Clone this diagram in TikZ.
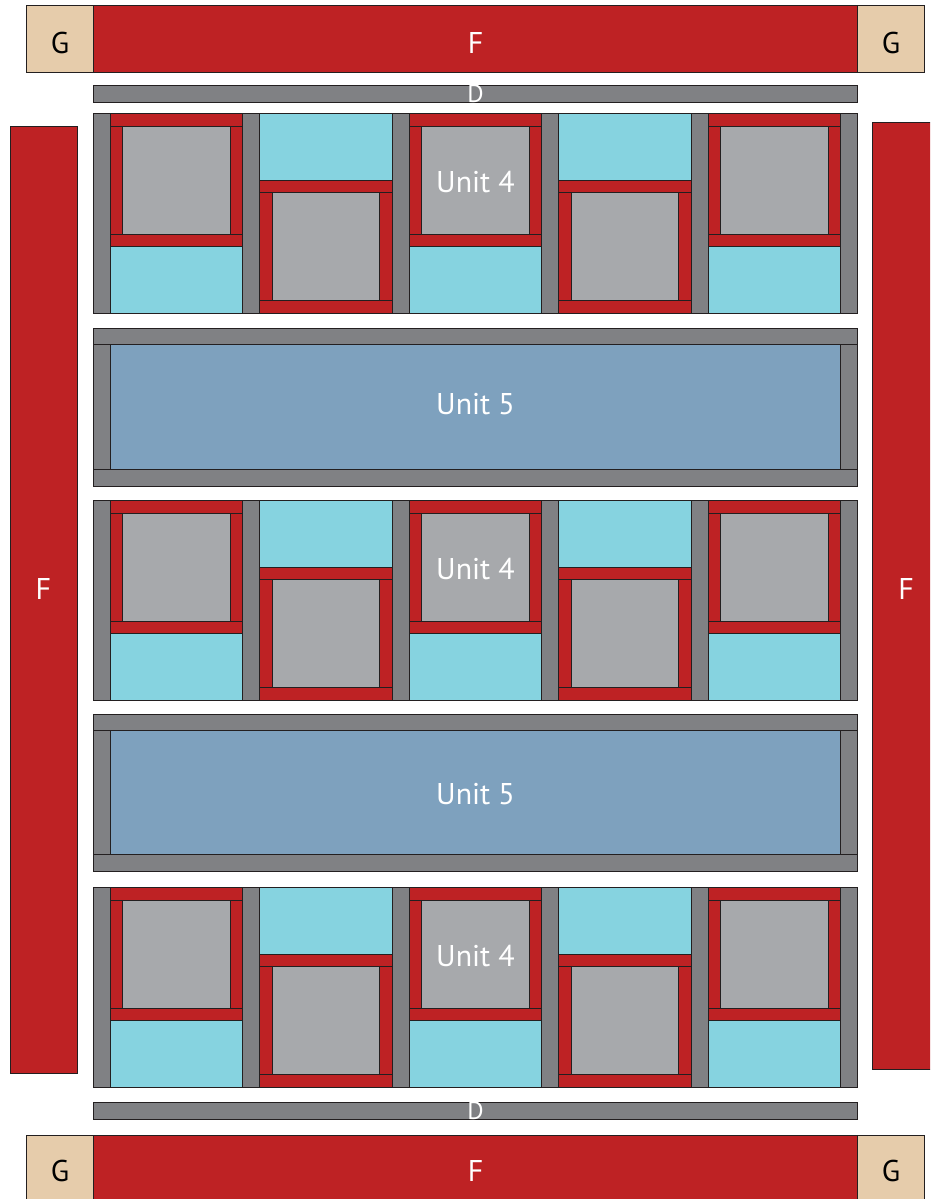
\documentclass[tikz,border=0pt]{standalone}
\usepackage{fontspec}
\setmainfont{PT Sans}
\definecolor{qred}{HTML}{BE2224}
\definecolor{qtan}{HTML}{E6CCAB}
\definecolor{qsash}{HTML}{808184}
\definecolor{qsq}{HTML}{A7A9AC}
\definecolor{qcyan}{HTML}{86D3E0}
\definecolor{qblue}{HTML}{7EA1BE}
\definecolor{qline}{HTML}{231F20}
\begin{document}
\begin{tikzpicture}[x=1pt,y=-1pt,
  piece/.style={draw=qline,line width=1pt},
  redp/.style={piece,fill=qred},
  tanp/.style={piece,fill=qtan},
  sashp/.style={piece,fill=qsash},
  sqp/.style={piece,fill=qsq},
  cyanp/.style={piece,fill=qcyan},
  bluep/.style={piece,fill=qblue},
  lab/.style={font=\fontsize{30}{30}\selectfont,inner sep=0pt},
  wlab/.style={lab,text=white},
  blab/.style={lab,text=black},
  dlab/.style={font=\fontsize{25}{25}\selectfont,inner sep=0pt,text=white,anchor=base}]
\useasboundingbox (0,0) rectangle (930,1199);
\clip (0,0) rectangle (930,1199);
% top border
\draw[tanp] (26.7,6) rectangle (93.3,72.7);
\draw[redp] (93.3,6) rectangle (857.5,72.7);
\draw[tanp] (857.5,6) rectangle (924.3,72.7);
\node[blab] (gtl) at (60,43) {G};
\node[wlab] (ftop) at (475.5,43) {F};
\node[blab] (gtr) at (891,43) {G};
% bottom border
\draw[tanp] (26.7,1135) rectangle (93.3,1201.7);
\draw[redp] (93.3,1135) rectangle (857.5,1201.7);
\draw[tanp] (857.5,1135) rectangle (924.3,1201.7);
\node[blab] (gbl) at (60,1171) {G};
\node[wlab] (fbot) at (475.5,1171) {F};
\node[blab] (gbr) at (891,1171) {G};
% side borders
\draw[redp] (10.7,126.7) rectangle (77.3,1073.3);
\node[wlab] (fleft) at (43.5,589) {F};
\draw[redp] (872.7,122.7) rectangle (939.3,1069.3);
\node[wlab] (fright) at (906,589) {F};
% D strips
\draw[sashp] (93.3,85.3) rectangle (857.5,102);
\node[dlab] (dtop) at (475.5,102.6) {D};
\draw[sashp] (93.3,1102.3) rectangle (857.5,1119.3);
\node[dlab] (dbot) at (475.5,1119.2) {D};
% Unit 4 rows
\foreach \r in {0,1,2} {
  \pgfmathsetmacro\T{113.3+387*\r}
  \foreach \i in {0,...,5} {
    \draw[sashp] (93.3+149.5*\i,\T) rectangle ++(16.7,200);
  }
  \foreach \j in {0,2,4} {
    \pgfmathsetmacro\X{110+149.5*\j}
    \draw[redp] (\X,\T) rectangle ++(132.8,12.7);
    \draw[redp] (\X,\T+120.7) rectangle ++(132.8,12.6);
    \draw[redp] (\X,\T+12.7) rectangle ++(12.5,108);
    \draw[redp] (\X+120.3,\T+12.7) rectangle ++(12.5,108);
    \draw[sqp] (\X+12.5,\T+12.7) rectangle ++(107.8,108);
    \draw[cyanp] (\X,\T+133.3) rectangle ++(132.8,66.7);
  }
  \foreach \j in {1,3} {
    \pgfmathsetmacro\X{110+149.5*\j}
    \draw[cyanp] (\X,\T) rectangle ++(132.8,66.7);
    \draw[redp] (\X,\T+66.7) rectangle ++(132.8,12.7);
    \draw[redp] (\X,\T+187.3) rectangle ++(132.8,12.7);
    \draw[redp] (\X,\T+79.4) rectangle ++(12.5,107.9);
    \draw[redp] (\X+120.3,\T+79.4) rectangle ++(12.5,107.9);
    \draw[sqp] (\X+12.5,\T+79.4) rectangle ++(107.8,107.9);
  }
  \node[wlab] (unitfour-\r) at (475.5,\T+69) {Unit 4};
}
% Unit 5 rows
\foreach \r/\ly in {0/404,1/794} {
  \pgfmathsetmacro\U{328.7+385.5*\r}
  \draw[sashp] (93.3,\U) rectangle ++(764.2,16);
  \draw[sashp] (93.3,\U+140.7) rectangle ++(764.2,16.6);
  \draw[sashp] (93.3,\U+16) rectangle ++(16.7,124.7);
  \draw[sashp] (840.8,\U+16) rectangle ++(16.7,124.7);
  \draw[bluep] (110,\U+16) rectangle ++(730.8,124.7);
  \node[wlab] (unitfive-\r) at (475.5,\ly) {Unit 5};
}
\end{tikzpicture}
\end{document}
